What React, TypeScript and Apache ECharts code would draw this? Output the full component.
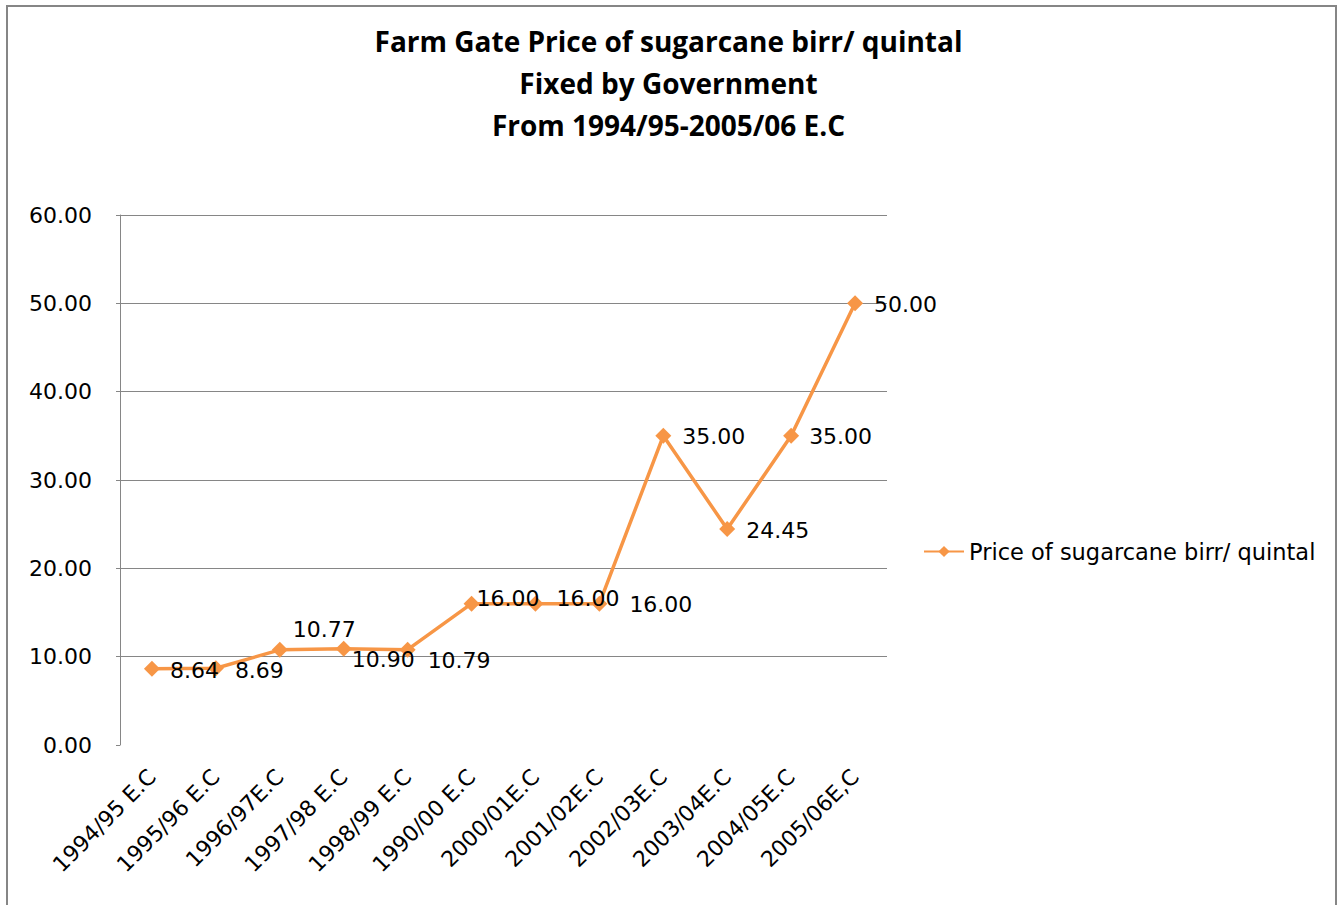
import React, { useEffect, useRef } from "react";
import * as echarts from "echarts";

const titleLines = [
  "Farm Gate Price of sugarcane birr/ quintal",
  "Fixed by Government",
  "From 1994/95-2005/06 E.C",
];
const seriesName = "Price of sugarcane birr/ quintal";
const categories = [
  "1994/95 E.C",
  "1995/96 E.C",
  "1996/97E.C",
  "1997/98 E.C",
  "1998/99 E.C",
  "1990/00 E.C",
  "2000/01E.C",
  "2001/02E.C",
  "2002/03E.C",
  "2003/04E.C",
  "2004/05E.C",
  "2005/06E,C",
];
const prices = [8.64, 8.69, 10.77, 10.9, 10.79, 16.0, 16.0, 16.0, 35.0, 24.45, 35.0, 50.0];
const yMin = 0;
const yMax = 60;
const yStep = 10;

// label placement tweaks (style only)
const labelOffsets: [number, number][] = [
  [5, 2],
  [6, 2],
  [0, -20],
  [-5, 11],
  [7, 11],
  [-8, -5],
  [8, -5],
  [17, 1],
  [6, 1],
  [6, 1],
  [5, 1],
  [6, 1],
];

const FONT = "'DejaVu Sans', Verdana, sans-serif";
const ORANGE = "#F79646";
const GRID = "#868686";

export default function App() {
  const ref = useRef<HTMLDivElement>(null);
  useEffect(() => {
    if (!ref.current) return;
    const chart = echarts.init(ref.current, undefined, { renderer: "svg" });
    const nLines = (yMax - yMin) / yStep + 1;
    const splitColors = Array.from({ length: nLines }, (_, i) => (i === 0 ? "rgba(0,0,0,0)" : GRID));
    chart.setOption({
      animation: false,
      backgroundColor: "#ffffff",
      title: {
        text: titleLines.join("\n"),
        left: "center",
        top: 15,
        textStyle: {
          fontFamily: "'Open Sans', 'Liberation Sans', sans-serif",
          fontWeight: "bold",
          fontSize: 28,
          lineHeight: 42,
          color: "#000",
        },
      },
      graphic: [
        {
          type: "rect",
          shape: { x: 7, y: 6, width: 1329, height: 920 },
          style: { fill: "none", stroke: GRID, lineWidth: 2 },
          silent: true,
        },
      ],
      legend: {
        data: [seriesName],
        orient: "vertical",
        left: 918,
        top: 535,
        itemWidth: 40,
        itemHeight: 14,
        itemGap: 4,
        textStyle: { fontFamily: FONT, fontSize: 22.5, color: "#000" },
      },
      grid: { left: 120, right: 450, top: 215, bottom: 160, containLabel: false },
      xAxis: {
        type: "category",
        data: categories,
        boundaryGap: true,
        axisLine: { show: false },
        axisTick: { show: false },
        axisLabel: {
          rotate: 45,
          interval: 0,
          margin: 28,
          fontFamily: FONT,
          fontSize: 22,
          color: "#000",
          align: "right",
        },
      },
      yAxis: {
        type: "value",
        min: yMin,
        max: yMax,
        interval: yStep,
        axisLine: { show: true, lineStyle: { color: GRID, width: 1 } },
        axisTick: { show: true, length: 4, lineStyle: { color: GRID } },
        axisLabel: {
          formatter: (v: number) => v.toFixed(2),
          fontFamily: FONT,
          fontSize: 22,
          color: "#000",
          margin: 28,
        },
        splitLine: { show: true, lineStyle: { color: splitColors, width: 1 } },
      },
      series: [
        {
          name: seriesName,
          type: "line",
          data: prices.map((v, i) => ({
            value: v,
            label: { offset: labelOffsets[i] },
          })),
          symbol: "diamond",
          symbolSize: 16,
          lineStyle: { color: ORANGE, width: 3.5 },
          itemStyle: { color: ORANGE },
          label: {
            show: true,
            position: "right",
            distance: 5,
            formatter: (p: any) => Number(p.value).toFixed(2),
            fontFamily: FONT,
            fontSize: 22,
            color: "#000",
          },
        },
      ],
    });
    return () => chart.dispose();
  }, []);
  return (
    <div
      ref={ref}
      style={{ position: "fixed", left: 0, top: 0, width: 1337, height: 905, background: "#fff" }}
    />
  );
}
